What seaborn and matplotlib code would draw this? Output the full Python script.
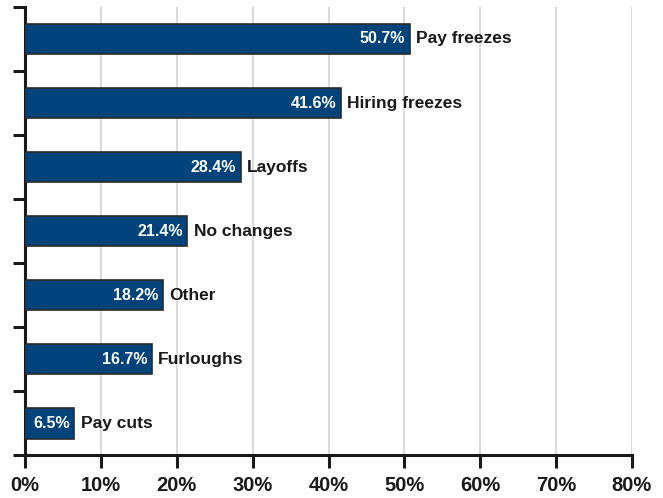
import matplotlib.pyplot as plt
import pandas as pd
import seaborn as sns
from matplotlib.ticker import FixedLocator

categories = ["Pay freezes", "Hiring freezes", "Layoffs", "No changes",
              "Other", "Furloughs", "Pay cuts"]
values = [50.7, 41.6, 28.4, 21.4, 18.2, 16.7, 6.5]
x_ticks = [0, 10, 20, 30, 40, 50, 60, 70, 80]

df = pd.DataFrame({"category": categories, "share": values})

sns.set_style("white")
plt.rcParams["font.family"] = ["Liberation Sans", "DejaVu Sans"]

fig = plt.figure(figsize=(6.63, 4.98), dpi=100)
ax = fig.add_axes([0.038, 0.086, 0.915, 0.9])

sns.barplot(data=df, x="share", y="category", orient="h", color="#00427a",
            saturation=1, width=0.48, edgecolor="#2b2b2b", linewidth=1.2,
            ax=ax, zorder=3)

ax.set_xlim(0, 80)
ax.set_ylim(len(categories) - 0.5, -0.5)
ax.set_xticks(x_ticks)
ax.set_xticklabels([f"{t}%" for t in x_ticks], fontsize=14.5, fontweight="bold",
                   color="#1a1a1a")
ax.yaxis.set_major_locator(FixedLocator([i - 0.5 for i in range(len(categories) + 1)]))
ax.set_yticklabels([])
ax.tick_params(axis="both", direction="out", length=9, width=2.2,
               color="#1a1a1a", bottom=True, left=True)
ax.tick_params(axis="x", pad=6)
ax.grid(axis="x", color="#d4d4d4", linewidth=1.2, zorder=0)
ax.set_axisbelow(True)
ax.set_xlabel("")
ax.set_ylabel("")

for side in ["top", "right"]:
    ax.spines[side].set_visible(False)
for side in ["left", "bottom"]:
    ax.spines[side].set_linewidth(2.2)
    ax.spines[side].set_color("#1a1a1a")

for i, (cat, val) in enumerate(zip(categories, values)):
    ax.text(val - 0.6, i, f"{val}%", ha="right", va="center", color="white",
            fontsize=11.5, fontweight="bold", zorder=5)
    ax.text(val + 0.8, i, cat, ha="left", va="center", color="#1a1a1a",
            fontsize=12.5, fontweight="bold", zorder=5)

fig.savefig("out.png", dpi=100)
plt.close(fig)
